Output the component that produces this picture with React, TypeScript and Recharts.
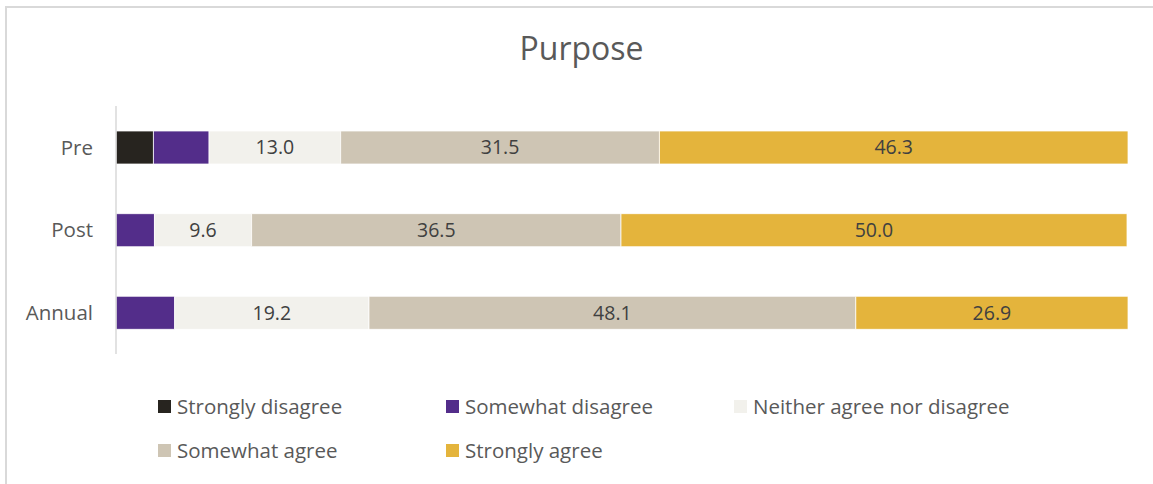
import { Bar, BarChart, LabelList, XAxis, YAxis } from "recharts";

const CATEGORIES = ["Pre", "Post", "Annual"];
const STRONGLY_DISAGREE = [3.7, 0, 0];
const SOMEWHAT_DISAGREE = [5.5, 3.8, 5.8];
const NEITHER = [13.0, 9.6, 19.2];
const SOMEWHAT_AGREE = [31.5, 36.5, 48.1];
const STRONGLY_AGREE = [46.3, 50.0, 26.9];

const SERIES = [
  { key: "sd", name: "Strongly disagree", color: "#27241f", values: STRONGLY_DISAGREE, label: false },
  { key: "swd", name: "Somewhat disagree", color: "#532d8a", values: SOMEWHAT_DISAGREE, label: false },
  { key: "n", name: "Neither agree nor disagree", color: "#f2f1ec", values: NEITHER, label: true },
  { key: "swa", name: "Somewhat agree", color: "#cec5b4", values: SOMEWHAT_AGREE, label: true },
  { key: "sa", name: "Strongly agree", color: "#e4b43c", values: STRONGLY_AGREE, label: true },
];

const data = CATEGORIES.map((c, i) => {
  const row: Record<string, string | number> = { cat: c };
  SERIES.forEach((s) => (row[s.key] = s.values[i]));
  return row;
});

const FONT = "'Open Sans', Lato, sans-serif";

export default function App() {
  return (
    <div style={{ position: "absolute", left: 0, top: 0, width: 1153, height: 484, overflow: "hidden", background: "#fff", fontFamily: FONT }}>
      <div style={{ position: "absolute", left: 5, top: 6, width: 1200, height: 600, border: "2px solid #d9d9d9", boxSizing: "border-box" }} />
      <div style={{ position: "absolute", left: 0, top: 26, width: 1163, textAlign: "center", fontSize: 32, color: "#595959", lineHeight: "44px" }}>Purpose</div>
      <div style={{ position: "absolute", left: 0, top: 0 }}>
        <BarChart
          width={1153}
          height={484}
          data={data}
          layout="vertical"
          margin={{ top: 106, right: 25, bottom: 130, left: 16 }}
        >
          <XAxis type="number" domain={[0, 100]} hide />
          <YAxis
            type="category"
            dataKey="cat"
            width={100}
            axisLine={{ stroke: "#d9d9d9", strokeWidth: 1.5 }}
            tickLine={false}
            tickSize={0}
            tickMargin={23}
            tick={{ fontSize: 20.5, fill: "#595959", fontFamily: FONT }}
          />
          {SERIES.map((s) => (
            <Bar key={s.key} dataKey={s.key} name={s.name} stackId="a" fill={s.color} stroke="#fff" strokeWidth={0.75} barSize={33} isAnimationActive={false}>
              {s.label && (
                <LabelList
                  dataKey={s.key}
                  position="center"
                  formatter={(v: number) => (v ? v.toFixed(1) : "")}
                  style={{ fontSize: 19.5, fill: "#404040", fontFamily: FONT }}
                />
              )}
            </Bar>
          ))}
        </BarChart>
      </div>
      <div style={{ position: "absolute", left: 158, top: 393, width: 900, display: "flex", flexWrap: "wrap", rowGap: 18 }}>
        {SERIES.map((s) => (
          <div key={s.key} style={{ width: 288, display: "flex", alignItems: "center", fontSize: 20.5, color: "#595959", height: 26 }}>
            <span style={{ display: "inline-block", width: 13, height: 13, background: s.color, marginRight: 6 }} />
            {s.name}
          </div>
        ))}
      </div>
    </div>
  );
}
